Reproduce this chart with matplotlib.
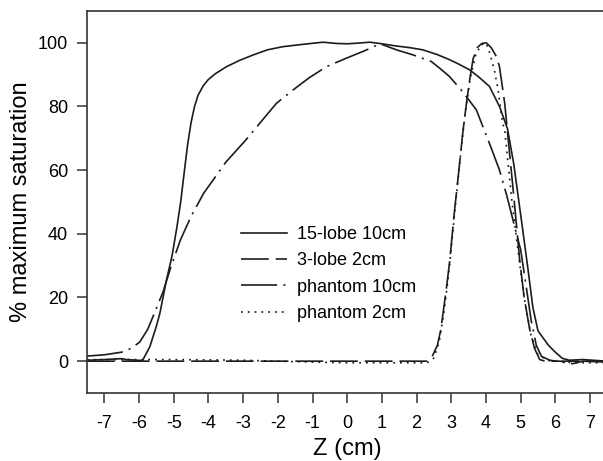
# Saturation profiles along Z for the different pulse designs
import matplotlib
matplotlib.use("Agg")
import matplotlib.pyplot as plt

plt.rcParams["font.family"] = ["Liberation Sans", "DejaVu Sans"]
plt.rcParams["lines.scale_dashes"] = False
plt.rcParams["axes.unicode_minus"] = False

# 15-lobe 10cm (solid)
z_15lobe = [-7.5, -7.0, -6.5, -6.36, -5.9, -5.69, -5.5, -5.4, -5.21, -5.05, -4.91, -4.8,
            -4.69, -4.6, -4.5, -4.4, -4.3, -4.15, -4.0, -3.8, -3.48, -3.1, -2.71, -2.3,
            -1.85, -1.3, -0.7, -0.3, 0.0, 0.3, 0.65, 1.0, 1.42, 1.8, 2.18, 2.6, 2.95,
            3.2, 3.53, 3.8, 4.1, 4.39, 4.62, 4.8, 4.9, 5.05, 5.21, 5.35, 5.5, 5.6, 5.8,
            6.0, 6.2, 6.4, 6.8, 7.2, 7.5]
s_15lobe = [0.3, 0.5, 0.8, 0.5, 0.2, 4.5, 11, 15, 25.5, 33, 42, 50,
            60, 68, 75, 80, 83.5, 86.5, 88.5, 90.3, 92.5, 94.5, 96.2, 97.8,
            98.8, 99.5, 100.2, 99.8, 99.7, 99.9, 100.2, 99.7, 99, 98.5, 97.8, 96.3, 94.7,
            93.4, 91.5, 89.2, 86.3, 80, 73, 62, 54, 42, 29, 17, 9.5, 8, 5,
            2.8, 0.9, 0.3, 0.5, 0.2, 0.0]

# 3-lobe 2cm (long dash)
z_3lobe = [-7.5, 2.3, 2.45, 2.6, 2.7, 2.86, 2.95, 3.1, 3.2, 3.34, 3.45, 3.53, 3.63,
           3.75, 3.88, 4.01, 4.15, 4.3, 4.39, 4.54, 4.62, 4.8, 4.97, 5.1, 5.26, 5.4,
           5.55, 5.7, 7.5]
s_3lobe = [0.0, 0.0, 1.5, 5, 10, 23, 31, 48, 58, 72.6, 82, 88.4, 95,
           98.5, 99.8, 100, 98.5, 95.7, 92.5, 81, 72, 52, 32, 20, 10, 4,
           0.5, 0.0, 0.0]

# phantom 10cm (dash-dot)
z_ph10 = [-7.5, -7.0, -6.46, -6.2, -5.98, -5.75, -5.5, -5.3, -5.1, -4.81, -4.5, -4.14,
          -3.5, -2.92, -2.5, -2.04, -1.56, -1.1, -0.6, -0.02, 0.5, 0.95, 1.42, 1.9,
          2.43, 2.67, 2.95, 3.3, 3.72, 3.91, 4.15, 4.39, 4.6, 4.88, 5.0, 5.16, 5.3,
          5.45, 5.6, 5.84, 6.2, 6.5, 6.8, 7.5]
s_ph10 = [1.6, 2.0, 2.9, 4.2, 6, 10, 16.6, 22, 29, 38, 45.5, 52.7,
          62.5, 69.5, 75, 81, 85.2, 89, 92.5, 95.2, 97.5, 99.7, 97.8, 96.2,
          94.1, 92, 89.4, 85, 79, 73.7, 67, 60, 52, 40, 35, 23.4, 13,
          5, 1.5, 0.3, -0.3, -0.8, 0.0, -0.3]

# phantom 2cm (dotted)
z_ph2 = [-7.5, -5.0, -3.0, -1.0, 0.0, 2.3, 2.5, 2.65, 2.8, 2.95, 3.1, 3.25, 3.4,
         3.55, 3.7, 3.85, 4.0, 4.11, 4.25, 4.34, 4.48, 4.54, 4.75, 4.97, 5.1, 5.3,
         5.5, 5.8, 6.5, 7.5]
s_ph2 = [0.5, 0.5, 0.3, -0.3, -0.5, -0.5, 1, 6, 16, 30, 47, 63, 78,
         89, 96, 99.3, 100, 96.8, 91, 85.8, 74.8, 72.6, 50, 30.8, 20, 8,
         2, 0.2, -0.5, -0.5]

labels = ["15-lobe 10cm", "3-lobe 2cm", "phantom 10cm", "phantom 2cm"]
x_ticks = list(range(-7, 8))
y_ticks = [0, 20, 40, 60, 80, 100]

line_color = "#1c1c1c"
lw = 1.2

fig = plt.figure(figsize=(6.03, 4.61), dpi=100)
ax = fig.add_axes([87 / 603, 1 - 393 / 461, 520.4 / 603, 382 / 461])

ax.plot(z_15lobe, s_15lobe, color=line_color, lw=lw, label=labels[0])
ax.plot(z_3lobe, s_3lobe, color=line_color, lw=lw, dashes=(20, 5), label=labels[1])
ax.plot(z_ph10, s_ph10, color=line_color, lw=lw, dashes=(26, 4.5, 1.5, 4.5), label=labels[2])
ax.plot(z_ph2, s_ph2, color=line_color, lw=lw, dashes=(1.3, 3.6), label=labels[3])

ax.set_xlim(-7.5, 7.5)
ax.set_ylim(-10, 110)
ax.set_xticks(x_ticks)
ax.set_yticks(y_ticks)
ax.tick_params(direction="out", length=7, width=1.1, color="#333333", labelsize=13)
ax.tick_params(axis="x", pad=9)
ax.tick_params(axis="y", pad=6.5)
for sp in ax.spines.values():
    sp.set_linewidth(1.2)
    sp.set_color("#333333")

ax.set_xlabel("Z (cm)", fontsize=17, labelpad=4)
ax.set_ylabel("% maximum saturation", fontsize=17, labelpad=4)

ax.legend(loc="upper left", bbox_to_anchor=(241 / 603, 1 - 226 / 461),
          bbox_transform=fig.transFigure, frameon=False, fontsize=13,
          handlelength=2.55, handletextpad=0.55, labelspacing=0.52, borderpad=0,
          borderaxespad=0)

fig.savefig("out.png", dpi=100)
